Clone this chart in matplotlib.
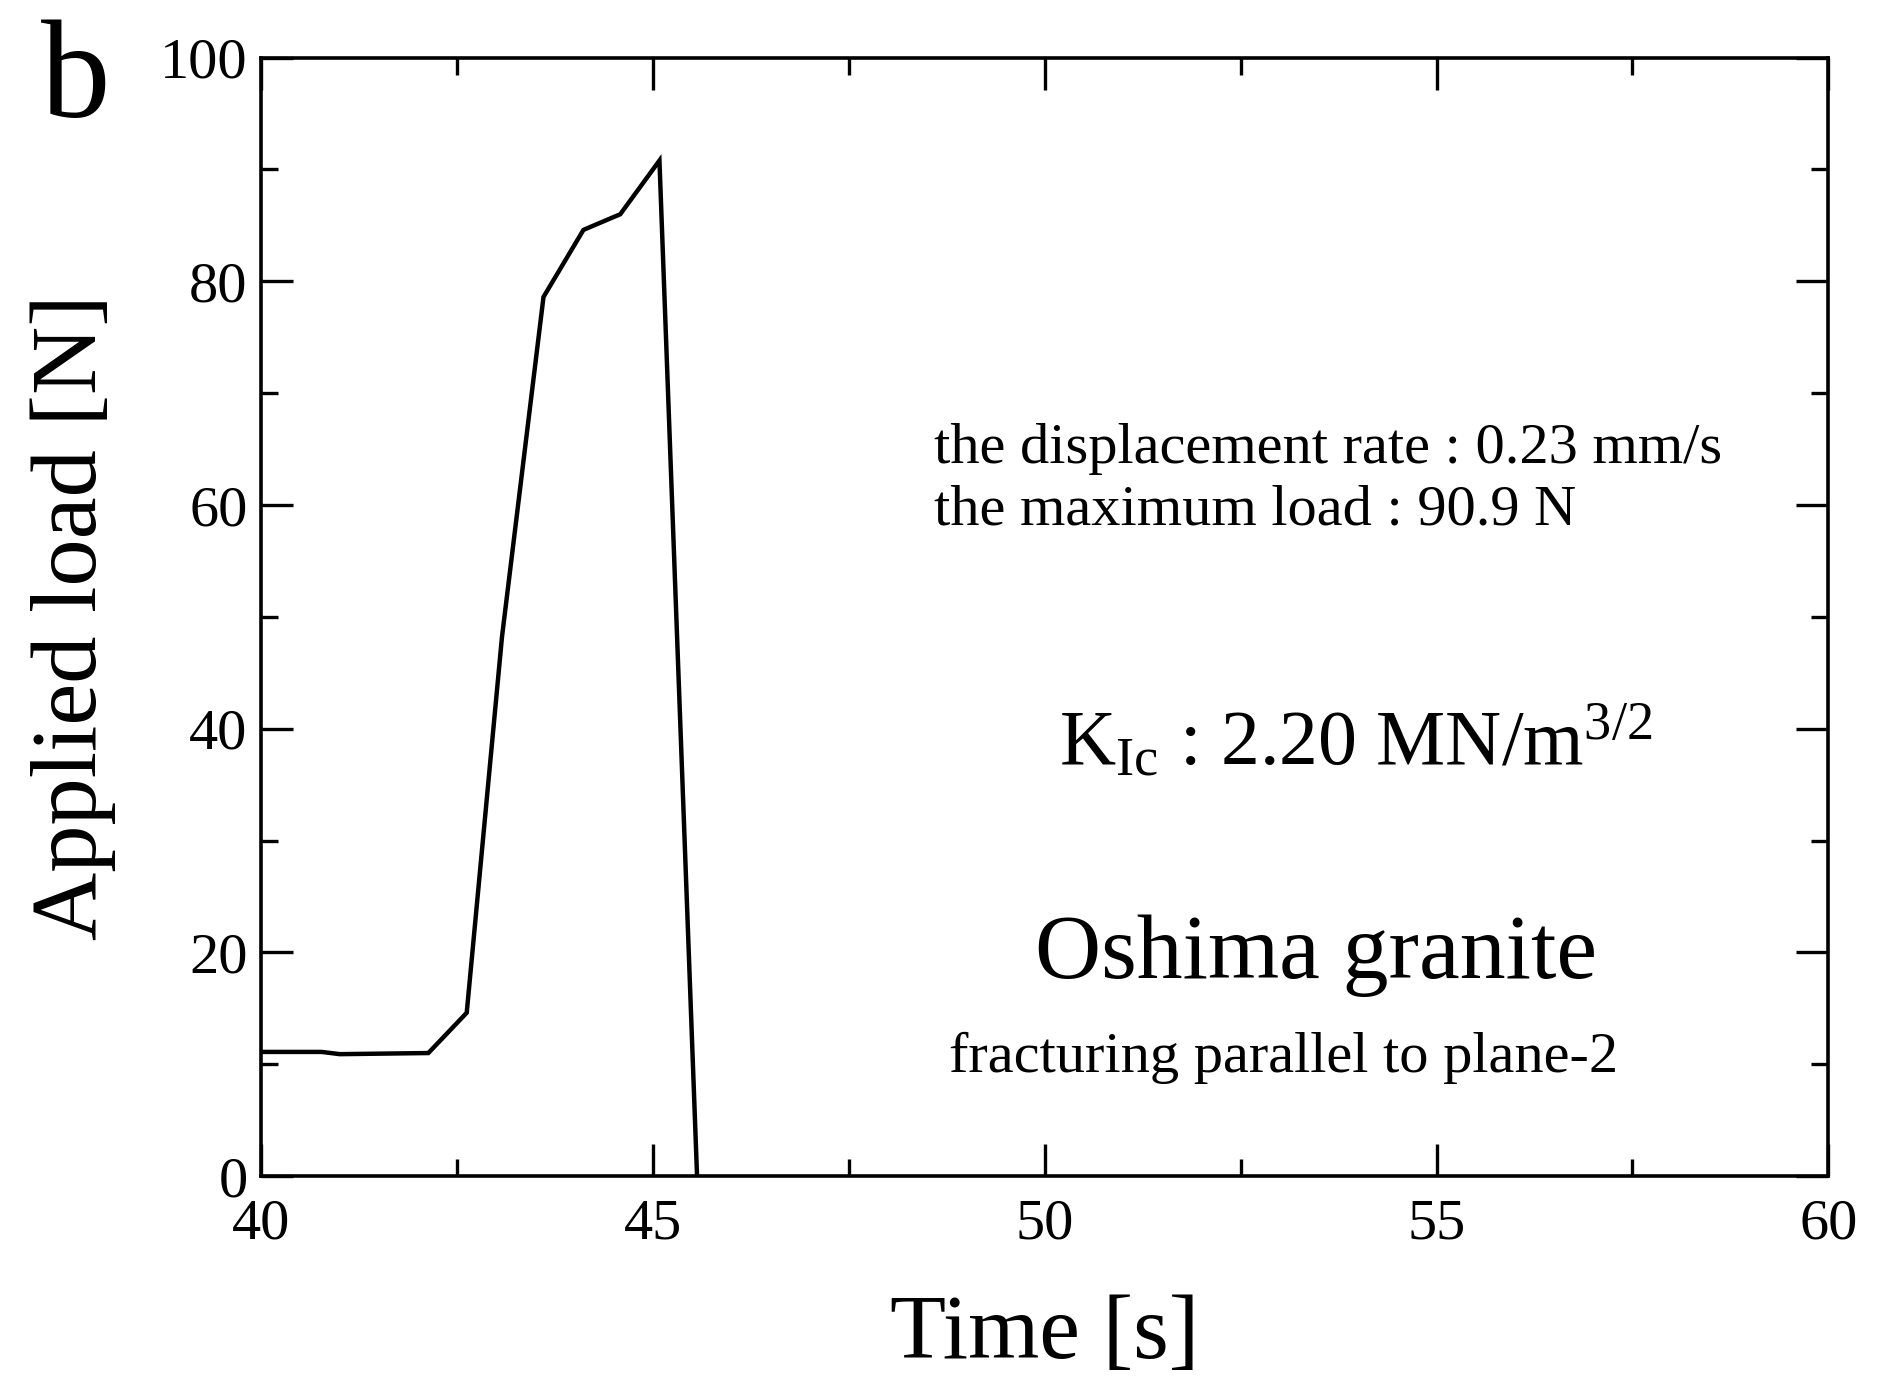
import matplotlib
matplotlib.use("Agg")
import matplotlib.pyplot as plt
from matplotlib.ticker import MultipleLocator

plt.rcParams['font.family'] = ['Liberation Serif', 'DejaVu Serif']
plt.rcParams['mathtext.fontset'] = 'custom'
plt.rcParams['mathtext.rm'] = 'Liberation Serif'
plt.rcParams['mathtext.it'] = 'Liberation Serif:italic'

time_s = [40.0, 40.77, 41.0, 42.13, 42.62, 43.07, 43.6, 44.11, 44.58, 45.08, 45.56]
load_N = [11.1, 11.1, 10.9, 11.0, 14.6, 48.2, 78.6, 84.6, 86.0, 90.8, 0.0]

fig = plt.figure(figsize=(18.81, 13.89), dpi=100)
ax = fig.add_axes([0.139, 0.1533, 0.833, 0.8052])
ax.plot(time_s, load_N, color='black', lw=3.2, solid_joinstyle='miter', clip_on=True)

ax.set_xlim(40, 60)
ax.set_ylim(0, 100)
ax.xaxis.set_major_locator(MultipleLocator(5))
ax.xaxis.set_minor_locator(MultipleLocator(2.5))
ax.yaxis.set_major_locator(MultipleLocator(20))
ax.yaxis.set_minor_locator(MultipleLocator(10))
ax.tick_params(which='both', direction='in', top=True, right=True, width=2.4, labelsize=42)
ax.tick_params(which='major', length=23)
ax.tick_params(which='minor', length=12)
ax.tick_params(axis='x', which='major', pad=16)
ax.tick_params(axis='y', which='major', pad=10)
for s in ax.spines.values():
    s.set_linewidth(2.6)

ax.set_xlabel('Time [s]', fontsize=66, labelpad=32)
ax.set_ylabel('Applied load [N]', fontsize=68, labelpad=32)

ax.text(48.58, 63.8, 'the displacement rate : 0.23 mm/s', fontsize=42, ha='left', va='baseline')
ax.text(48.58, 58.3, 'the maximum load : 90.9 N', fontsize=42, ha='left', va='baseline')
ax.text(53.97, 36.8, r'K$_{\mathrm{Ic}}$ : 2.20 MN/m$^{3/2}$', fontsize=56, ha='center', va='baseline')
ax.text(53.46, 17.7, 'Oshima granite', fontsize=66, ha='center', va='baseline')
ax.text(53.05, 9.3, 'fracturing parallel to plane-2', fontsize=42, ha='center', va='baseline')

fig.text(0.022, 0.916, 'b', fontsize=100, ha='left', va='baseline')

fig.savefig('out.png', dpi=100)
